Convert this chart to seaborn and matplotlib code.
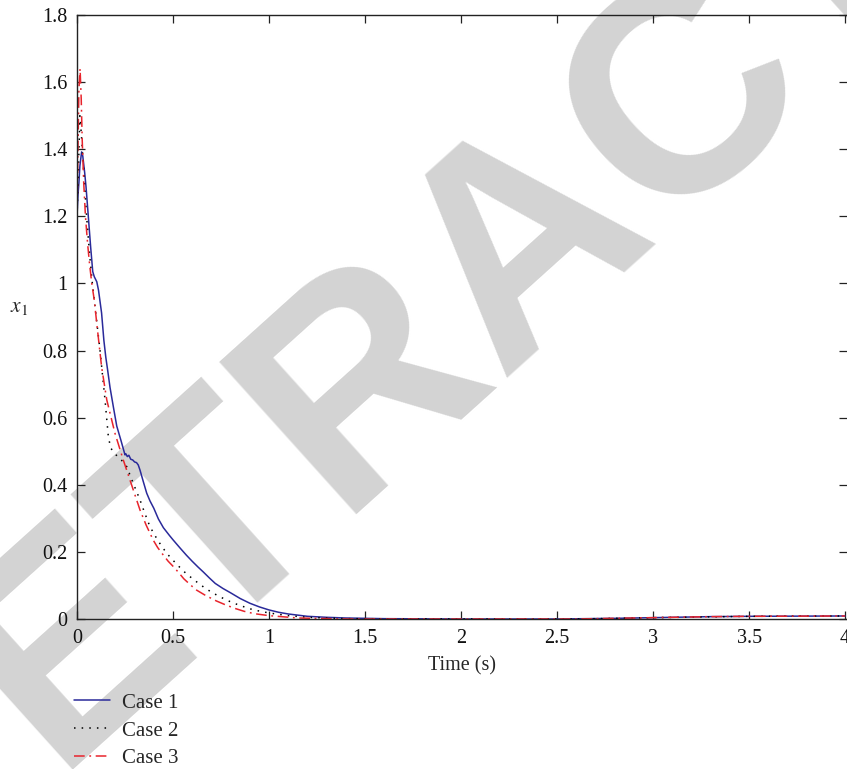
import numpy as np
import pandas as pd
import matplotlib
matplotlib.use("Agg")
import matplotlib.pyplot as plt
import seaborn as sns

# values
case1_t = [0.000, 0.006, 0.010, 0.015, 0.024, 0.030, 0.040, 0.047, 0.059, 0.071,
           0.082, 0.090, 0.103, 0.112, 0.128, 0.140, 0.150, 0.160, 0.172, 0.190,
           0.207, 0.230, 0.250, 0.255, 0.262, 0.270, 0.280, 0.290, 0.300, 0.310,
           0.319, 0.328, 0.345, 0.363, 0.380, 0.400, 0.424, 0.450, 0.480, 0.500,
           0.536, 0.570, 0.600, 0.630, 0.658, 0.690, 0.720, 0.760, 0.800, 0.850,
           0.900, 0.950, 1.000, 1.050, 1.100, 1.200, 1.300, 1.400, 1.600, 2.000,
           2.500, 2.800, 3.000, 3.300, 3.500, 4.000]
case1_v = [1.200, 1.270, 1.300, 1.350, 1.392, 1.380, 1.330, 1.288, 1.199, 1.109,
           1.035, 1.020, 1.005, 0.980, 0.912, 0.830, 0.780, 0.740, 0.690, 0.630,
           0.575, 0.530, 0.489, 0.492, 0.484, 0.488, 0.476, 0.474, 0.468, 0.466,
           0.459, 0.444, 0.410, 0.375, 0.352, 0.330, 0.298, 0.272, 0.250, 0.236,
           0.212, 0.190, 0.172, 0.155, 0.140, 0.122, 0.106, 0.091, 0.078, 0.061,
           0.047, 0.036, 0.027, 0.020, 0.015, 0.008, 0.005, 0.003, 0.001, 0.000,
           0.000, 0.002, 0.004, 0.007, 0.008, 0.009]

case2_t = [0.000, 0.008, 0.015, 0.022, 0.030, 0.040, 0.050, 0.065, 0.080, 0.100,
           0.120, 0.134, 0.146, 0.155, 0.163, 0.175, 0.189, 0.205, 0.224, 0.259,
           0.293, 0.328, 0.350, 0.380, 0.400, 0.420, 0.440, 0.467, 0.500, 0.530,
           0.560, 0.589, 0.620, 0.660, 0.700, 0.745, 0.800, 0.850, 0.920, 1.000,
           1.100, 1.200, 1.400, 2.000, 2.600, 3.000, 3.500, 4.000]
case2_v = [1.200, 1.350, 1.500, 1.450, 1.380, 1.290, 1.200, 1.090, 1.000, 0.900,
           0.800, 0.720, 0.653, 0.595, 0.545, 0.510, 0.499, 0.488, 0.479, 0.454,
           0.404, 0.355, 0.320, 0.275, 0.255, 0.235, 0.218, 0.196, 0.175, 0.157,
           0.140, 0.126, 0.112, 0.095, 0.080, 0.066, 0.051, 0.040, 0.027, 0.018,
           0.010, 0.005, 0.001, 0.000, 0.000, 0.004, 0.008, 0.009]

case3_t = [0.000, 0.005, 0.010, 0.016, 0.022, 0.027, 0.035, 0.044, 0.055, 0.065,
           0.077, 0.090, 0.105, 0.128, 0.155, 0.198, 0.241, 0.276, 0.328, 0.360,
           0.397, 0.420, 0.450, 0.475, 0.502, 0.530, 0.556, 0.590, 0.623, 0.670,
           0.725, 0.770, 0.820, 0.870, 0.922, 1.000, 1.150, 1.400, 2.000, 2.600,
           2.800, 3.000, 3.300, 3.500, 4.000]
case3_v = [1.200, 1.400, 1.580, 1.640, 1.550, 1.430, 1.300, 1.200, 1.120, 1.060,
           1.000, 0.950, 0.870, 0.752, 0.653, 0.553, 0.474, 0.414, 0.325, 0.280,
           0.235, 0.213, 0.190, 0.172, 0.156, 0.138, 0.120, 0.102, 0.086, 0.070,
           0.054, 0.043, 0.032, 0.023, 0.016, 0.010, 0.003, 0.000, 0.000, 0.000,
           0.002, 0.004, 0.007, 0.008, 0.009]

labels = ["Case 1", "Case 2", "Case 3"]
x_ticks = [0, 0.5, 1, 1.5, 2, 2.5, 3, 3.5, 4]
x_ticklabels = ["0", "0.5", "1", "1.5", "2", "2.5", "3", "3.5", "4"]
y_ticks = [0, 0.2, 0.4, 0.6, 0.8, 1.0, 1.2, 1.4, 1.6, 1.8]
y_ticklabels = ["0", "0.2", "0.4", "0.6", "0.8", "1", "1.2", "1.4", "1.6", "1.8"]

df = pd.concat([
    pd.DataFrame({"t": case1_t, "v": case1_v, "case": labels[0]}),
    pd.DataFrame({"t": case2_t, "v": case2_v, "case": labels[1]}),
    pd.DataFrame({"t": case3_t, "v": case3_v, "case": labels[2]}),
])

sns.set_theme(style="ticks")
plt.rcParams["font.family"] = ["Liberation Serif", "DejaVu Serif"]
plt.rcParams["mathtext.fontset"] = "stix"

W, H = 847, 769
fig = plt.figure(figsize=(W / 100, H / 100), dpi=100)
fig.patch.set_facecolor("white")

# watermark
fig.text(526 / W, 1 - 240 / H, "RETRACTED", fontsize=215, fontweight="bold",
         family="Liberation Sans", color="#d3d3d3", rotation=42,
         ha="center", va="center", rotation_mode="anchor", zorder=-5)

ax = fig.add_axes([77 / W, 1 - 619 / H, 770 / W, 604 / H])
ax.set_facecolor("none")

styles = {
    "Case 1": dict(color="#2a2a9a", linestyle="-", linewidth=1.1),
    "Case 2": dict(color="black", linestyle=(0, (1, 4)), linewidth=1.1),
    "Case 3": dict(color="#e8242c", linestyle=(0, (7, 3, 1.2, 3)), linewidth=1.1),
}
for name in labels:
    sns.lineplot(data=df[df["case"] == name], x="t", y="v", ax=ax,
                 estimator=None, sort=False, label=name, legend=False,
                 **styles[name])

ax.set_xlim(0, 4.01)
ax.set_ylim(0, 1.8)
ax.set_xticks(x_ticks)
ax.set_xticklabels(x_ticklabels)
ax.set_yticks(y_ticks)
ax.set_yticklabels(y_ticklabels)
ax.tick_params(direction="in", length=6, width=0.9, colors="#222222",
               labelcolor="#111111", labelsize=14.5, top=True, right=True, pad=7)
for side in ["left", "bottom", "top"]:
    ax.spines[side].set_linewidth(1.0)
    ax.spines[side].set_color("#222222")
ax.spines["right"].set_visible(False)

ax.set_xlabel("Time (s)", fontsize=14.5, labelpad=6)
ax.set_ylabel(r"$x_1$", fontsize=15.5, rotation=0)
ax.yaxis.set_label_coords(-0.075, 0.5)

handles, _ = ax.get_legend_handles_labels()
fig.legend(handles, labels, loc="upper left",
           bbox_to_anchor=(74 / W, 1 - 693 / H), frameon=False,
           fontsize=15, handlelength=1.75, handletextpad=0.55,
           labelspacing=0.4, borderpad=0, borderaxespad=0)

fig.savefig("out.png", dpi=100)
